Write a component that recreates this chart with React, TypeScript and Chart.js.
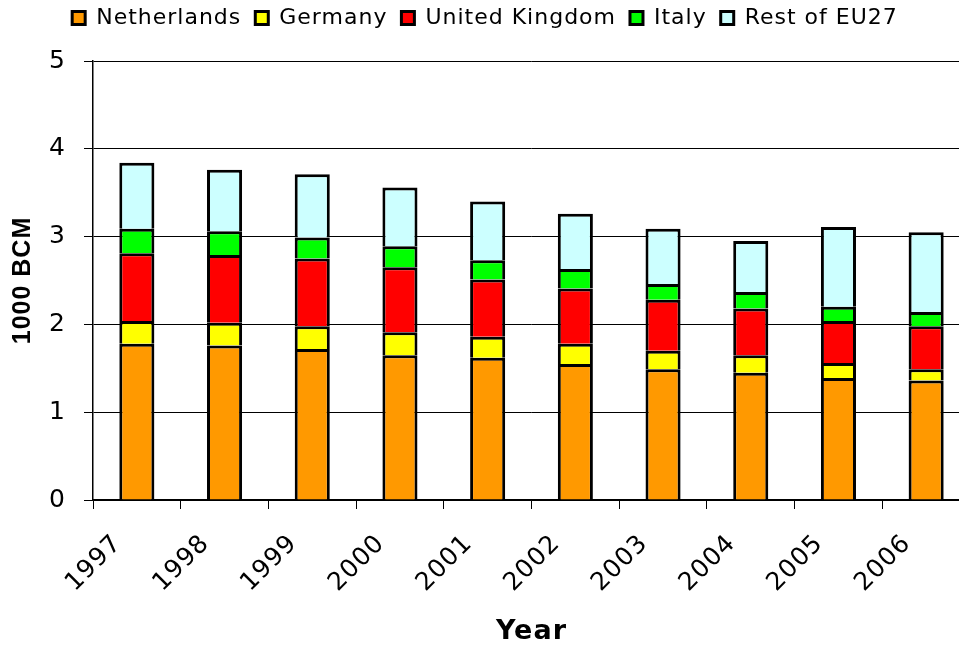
import { useEffect, useRef } from 'react';
import { Chart, registerables } from 'chart.js';

Chart.register(...registerables);

// Gas consumption by supplier country, thousands of billion cubic metres
const years = ['1997', '1998', '1999', '2000', '2001', '2002', '2003', '2004', '2005', '2006'];
const netherlands = [1.78, 1.76, 1.72, 1.65, 1.62, 1.55, 1.49, 1.45, 1.39, 1.36];
const germany = [0.26, 0.26, 0.26, 0.26, 0.24, 0.23, 0.21, 0.2, 0.17, 0.13];
const unitedKingdom = [0.77, 0.77, 0.77, 0.74, 0.65, 0.63, 0.58, 0.53, 0.48, 0.49];
const italy = [0.28, 0.27, 0.24, 0.24, 0.22, 0.22, 0.18, 0.19, 0.16, 0.16];
const restOfEU27 = [0.75, 0.7, 0.72, 0.67, 0.67, 0.63, 0.63, 0.58, 0.91, 0.91];
const yMin = 0;
const yMax = 5;
const yStep = 1;

const seriesNames = ['Netherlands', 'Germany', 'United Kingdom', 'Italy', 'Rest of EU27'];
const seriesValues = [netherlands, germany, unitedKingdom, italy, restOfEU27];
const seriesColors = ['#FF9900', '#FFFF00', '#FF0000', '#00FF00', '#CCFFFF'];

// Wider glyph spacing for all canvas text
const letterSpacingPlugin = {
  id: 'letterSpacing',
  beforeUpdate(chart: any) {
    chart.ctx.letterSpacing = '1px';
  },
  beforeDraw(chart: any) {
    chart.ctx.letterSpacing = '1px';
  },
};

export default function App() {
  const canvasRef = useRef<HTMLCanvasElement>(null);

  useEffect(() => {
    const canvas = canvasRef.current;
    if (!canvas) return;
    Chart.defaults.color = '#000';

    const chart = new Chart(canvas, {
      type: 'bar',
      data: {
        labels: years,
        datasets: seriesNames.map((name, i) => ({
          label: name,
          data: seriesValues[i],
          backgroundColor: seriesColors[i],
          borderColor: '#000',
          borderWidth: 3,
          categoryPercentage: 1,
          barPercentage: 0.4,
        })),
      },
      options: {
        responsive: false,
        animation: false,
        devicePixelRatio: 1,
        layout: { padding: 0 },
        plugins: {
          legend: {
            position: 'top',
            weight: 1000,
            labels: {
              boxWidth: 13,
              boxHeight: 13,
              padding: 14,
              color: '#000',
              font: { family: '"DejaVu Sans", sans-serif', size: 22 },
            },
          },
          title: {
            display: true,
            text: '',
            position: 'top',
            weight: 500,
            padding: { top: 12, bottom: 0 },
            font: { size: 10, lineHeight: 1 },
          },
          tooltip: { enabled: false },
        },
        scales: {
          x: {
            stacked: true,
            afterFit(scale: any) {
              scale.height = 150;
              scale.paddingLeft = 0;
              scale.paddingRight = 0;
            },
            grid: {
              offset: true,
              drawOnChartArea: false,
              drawTicks: true,
              tickLength: 9,
              color: '#000',
              lineWidth: 1,
            },
            border: { color: '#000', width: 1.5 },
            ticks: {
              minRotation: 45,
              maxRotation: 45,
              labelOffset: -19,
              padding: 20,
              color: '#000',
              font: { family: '"DejaVu Sans", sans-serif', size: 25 },
            },
            title: {
              display: true,
              text: 'Year',
              color: '#000',
              padding: { top: 0, bottom: 2 },
              font: { family: '"DejaVu Sans", sans-serif', size: 27, weight: 'bold', lineHeight: 1.2 },
            },
          },
          y: {
            stacked: true,
            min: yMin,
            max: yMax,
            afterFit(scale: any) {
              scale.width = 93;
            },
            grid: {
              color: '#000',
              lineWidth: 1,
              tickLength: 9,
              drawTicks: true,
            },
            border: { color: '#000', width: 1.5 },
            ticks: {
              stepSize: yStep,
              padding: 18,
              color: '#000',
              font: { family: '"DejaVu Sans", sans-serif', size: 25 },
            },
            title: {
              display: true,
              text: '1000 BCM',
              color: '#000',
              padding: { top: 8.5, bottom: 0 },
              font: { family: '"Liberation Sans", Arial, sans-serif', size: 25, weight: 'bold', lineHeight: 1.2 },
            },
          },
        },
      },
      plugins: [letterSpacingPlugin],
    } as any);

    return () => chart.destroy();
  }, []);

  return (
    <div
      style={{
        position: 'fixed',
        left: 0,
        top: 0,
        width: 959,
        height: 648,
        overflow: 'hidden',
        background: '#fff',
      }}
    >
      <canvas
        ref={canvasRef}
        width={970}
        height={657}
        style={{ position: 'absolute', left: 0, top: -7, width: 970, height: 657 }}
      />
    </div>
  );
}
